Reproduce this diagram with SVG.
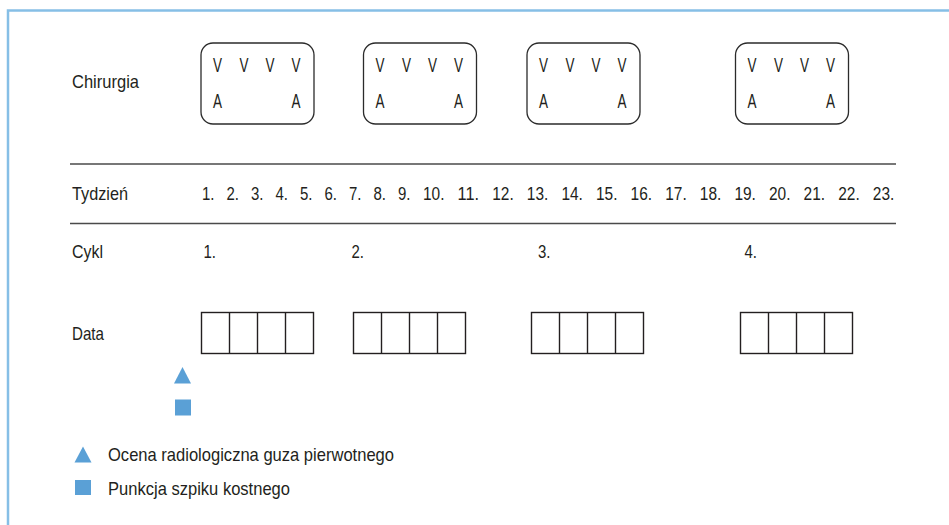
<svg xmlns="http://www.w3.org/2000/svg" width="949" height="525" viewBox="0 0 949 525">
  <style>
    .t { font-family: "Liberation Sans", Arial, sans-serif; font-size: 18.5px; fill: #231f20; }
    .n { font-family: "Liberation Sans", Arial, sans-serif; font-size: 18px; fill: #231f20; }
    .va { font-family: "Liberation Sans", Arial, sans-serif; font-size: 20px; fill: #231f20; }
    .rbox { fill: none; stroke: #2b2b2b; stroke-width: 1.3; }
    .cell { fill: none; stroke: #231f20; stroke-width: 1.4; }
    .rule { stroke: #4a4a4a; stroke-width: 1.6; }
    .frame { stroke: #86bfe6; stroke-width: 2.5; fill: none; }
    .mark { fill: #5aa0d6; }
  </style>
  <defs>
    <g id="surg">
      <rect class="rbox" x="0" y="0" width="113" height="81" rx="12" ry="12"/>
      <text class="va" x="12" y="29" textLength="9" lengthAdjust="spacingAndGlyphs">V</text>
      <text class="va" x="38.5" y="29" textLength="9" lengthAdjust="spacingAndGlyphs">V</text>
      <text class="va" x="64.5" y="29" textLength="9" lengthAdjust="spacingAndGlyphs">V</text>
      <text class="va" x="90.5" y="29" textLength="9" lengthAdjust="spacingAndGlyphs">V</text>
      <text class="va" x="12" y="65" textLength="9" lengthAdjust="spacingAndGlyphs">A</text>
      <text class="va" x="90.5" y="65" textLength="9" lengthAdjust="spacingAndGlyphs">A</text>
    </g>
    <g id="cells">
      <rect class="cell" x="0" y="0" width="112" height="41"/>
      <line class="cell" x1="28" y1="0" x2="28" y2="41"/>
      <line class="cell" x1="56" y1="0" x2="56" y2="41"/>
      <line class="cell" x1="84" y1="0" x2="84" y2="41"/>
    </g>
  </defs>

  <rect x="0" y="0" width="949" height="525" fill="#ffffff"/>

  <!-- frame edges -->
  <path class="frame" d="M8 525 V10.5 H949"/>

  <!-- row labels -->
  <g id="labels">
    <text class="t" x="72" y="88" textLength="67" lengthAdjust="spacingAndGlyphs">Chirurgia</text>
    <text class="t" x="72" y="200" textLength="56" lengthAdjust="spacingAndGlyphs">Tydzień</text>
    <text class="t" x="72" y="258" textLength="31" lengthAdjust="spacingAndGlyphs">Cykl</text>
    <text class="t" x="72" y="340" textLength="32" lengthAdjust="spacingAndGlyphs">Data</text>
  </g>

  <!-- surgery blocks -->
  <g id="surgery-1"><use href="#surg" x="201" y="43"/></g>
  <g id="surgery-2"><use href="#surg" x="363.5" y="43"/></g>
  <g id="surgery-3"><use href="#surg" x="527" y="43"/></g>
  <g id="surgery-4"><use href="#surg" x="735.5" y="43"/></g>

  <!-- horizontal rules -->
  <g id="rules">
    <line class="rule" x1="70" y1="164" x2="896" y2="164"/>
    <line class="rule" x1="70" y1="223.5" x2="896" y2="223.5"/>
  </g>

  <!-- week numbers -->
  <g id="weeks">
    <text class="n" x="202" y="200" textLength="12.5" lengthAdjust="spacingAndGlyphs">1.</text>
    <text class="n" x="226.5" y="200" textLength="12.5" lengthAdjust="spacingAndGlyphs">2.</text>
    <text class="n" x="251" y="200" textLength="12.5" lengthAdjust="spacingAndGlyphs">3.</text>
    <text class="n" x="275.5" y="200" textLength="12.5" lengthAdjust="spacingAndGlyphs">4.</text>
    <text class="n" x="300" y="200" textLength="12.5" lengthAdjust="spacingAndGlyphs">5.</text>
    <text class="n" x="324.5" y="200" textLength="12.5" lengthAdjust="spacingAndGlyphs">6.</text>
    <text class="n" x="349" y="200" textLength="12.5" lengthAdjust="spacingAndGlyphs">7.</text>
    <text class="n" x="373.5" y="200" textLength="12.5" lengthAdjust="spacingAndGlyphs">8.</text>
    <text class="n" x="398" y="200" textLength="12.5" lengthAdjust="spacingAndGlyphs">9.</text>
    <text class="n" x="423" y="200" textLength="21.5" lengthAdjust="spacingAndGlyphs">10.</text>
    <text class="n" x="457.6" y="200" textLength="21.5" lengthAdjust="spacingAndGlyphs">11.</text>
    <text class="n" x="492.2" y="200" textLength="21.5" lengthAdjust="spacingAndGlyphs">12.</text>
    <text class="n" x="526.8" y="200" textLength="21.5" lengthAdjust="spacingAndGlyphs">13.</text>
    <text class="n" x="561.4" y="200" textLength="21.5" lengthAdjust="spacingAndGlyphs">14.</text>
    <text class="n" x="596" y="200" textLength="21.5" lengthAdjust="spacingAndGlyphs">15.</text>
    <text class="n" x="630.6" y="200" textLength="21.5" lengthAdjust="spacingAndGlyphs">16.</text>
    <text class="n" x="665.2" y="200" textLength="21.5" lengthAdjust="spacingAndGlyphs">17.</text>
    <text class="n" x="699.8" y="200" textLength="21.5" lengthAdjust="spacingAndGlyphs">18.</text>
    <text class="n" x="734.4" y="200" textLength="21.5" lengthAdjust="spacingAndGlyphs">19.</text>
    <text class="n" x="769" y="200" textLength="21.5" lengthAdjust="spacingAndGlyphs">20.</text>
    <text class="n" x="803.6" y="200" textLength="21.5" lengthAdjust="spacingAndGlyphs">21.</text>
    <text class="n" x="838.2" y="200" textLength="21.5" lengthAdjust="spacingAndGlyphs">22.</text>
    <text class="n" x="872.8" y="200" textLength="21.5" lengthAdjust="spacingAndGlyphs">23.</text>
  </g>

  <!-- cycle numbers -->
  <g id="cycles">
    <text class="n" x="203.5" y="258" textLength="12.5" lengthAdjust="spacingAndGlyphs">1.</text>
    <text class="n" x="351.5" y="258" textLength="12.5" lengthAdjust="spacingAndGlyphs">2.</text>
    <text class="n" x="538" y="258" textLength="12.5" lengthAdjust="spacingAndGlyphs">3.</text>
    <text class="n" x="744.5" y="258" textLength="12.5" lengthAdjust="spacingAndGlyphs">4.</text>
  </g>

  <!-- date cells -->
  <g id="data-1"><use href="#cells" x="201.5" y="312.5"/></g>
  <g id="data-2"><use href="#cells" x="353.5" y="312.5"/></g>
  <g id="data-3"><use href="#cells" x="531.5" y="312.5"/></g>
  <g id="data-4"><use href="#cells" x="740.5" y="312.5"/></g>

  <!-- markers under week 1 -->
  <g id="markers">
    <polygon class="mark" points="182.5,367 191,383.5 174,383.5"/>
    <rect class="mark" x="175" y="399.5" width="16" height="16"/>
  </g>

  <!-- legend -->
  <g id="legend">
    <polygon class="mark" points="83,446.5 91.5,462.5 74.5,462.5"/>
    <text class="t" x="108" y="460.5" textLength="286" lengthAdjust="spacingAndGlyphs">Ocena radiologiczna guza pierwotnego</text>
    <rect class="mark" x="75" y="480" width="16" height="15"/>
    <text class="t" x="108" y="495" textLength="182" lengthAdjust="spacingAndGlyphs">Punkcja szpiku kostnego</text>
  </g>
</svg>
